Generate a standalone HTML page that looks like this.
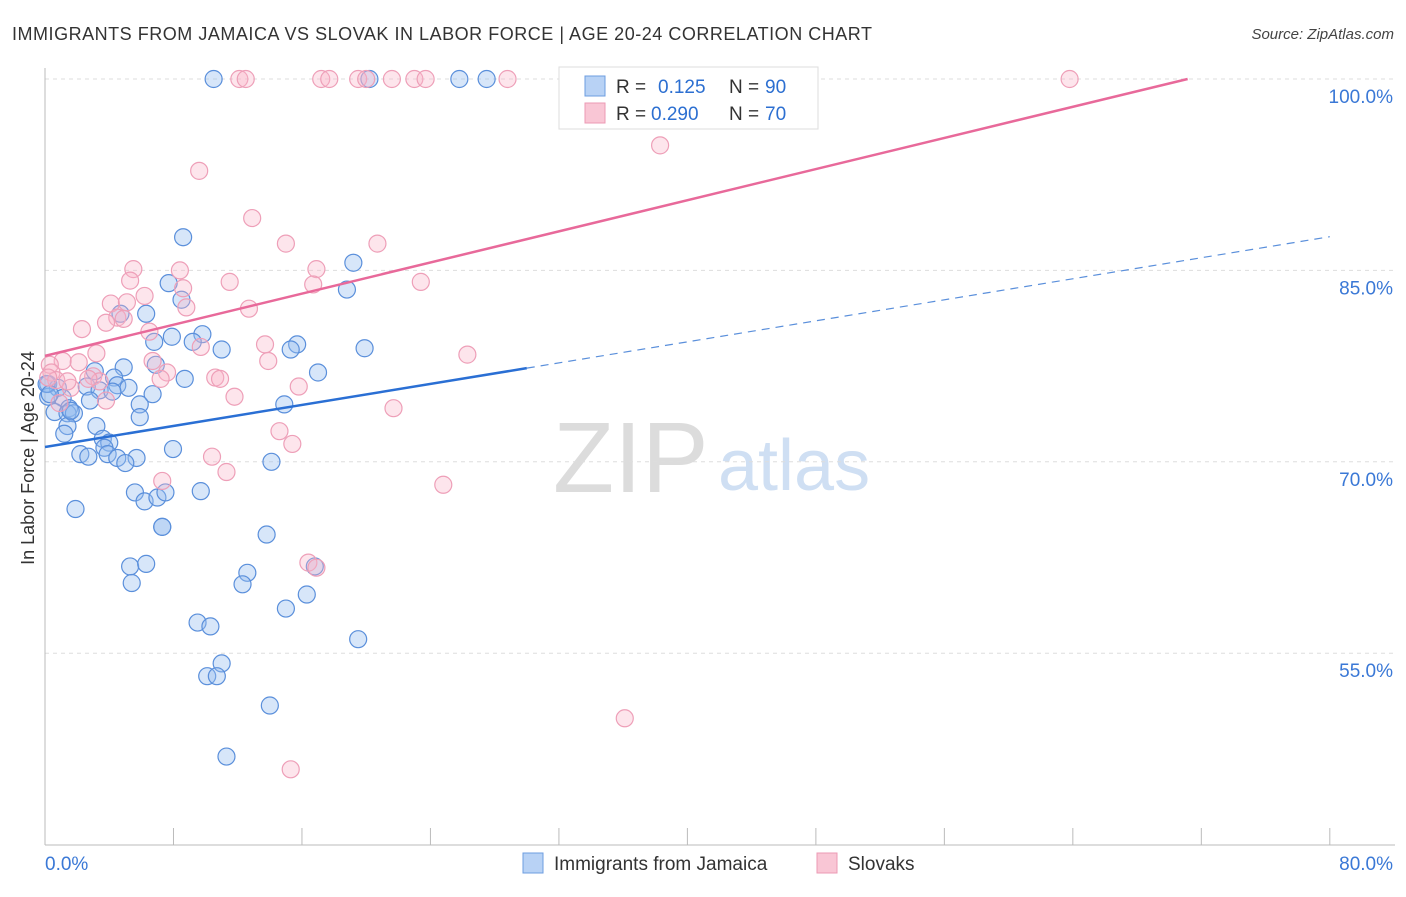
<!DOCTYPE html>
<html><head><meta charset="utf-8"><style>
body{margin:0;background:#fff;font-family:"Liberation Sans",sans-serif}
svg text{font-family:"Liberation Sans",sans-serif}
</style></head><body>
<svg id="chart" width="1406" height="892" viewBox="0 0 1406 892">
<text x="12" y="40" font-size="18" fill="#333" textLength="860">IMMIGRANTS FROM JAMAICA VS SLOVAK IN LABOR FORCE | AGE 20-24 CORRELATION CHART</text>
<text x="1394" y="39" font-size="15" fill="#444" text-anchor="end" font-style="italic">Source: ZipAtlas.com</text>
<g><text x="553" y="492" font-size="100" fill="#dcdcdc" font-family="Liberation Serif">ZIP</text><text x="718" y="490" font-size="72" fill="#cfdff3">atlas</text></g>
<g id="grid"></g>
<g id="axes"></g>
<g id="pts"></g>
<g id="lines"></g>
<text transform="translate(34,458) rotate(-90)" font-size="18" fill="#333" text-anchor="middle">In Labor Force | Age 20-24</text>
<g>
<rect x="559" y="67" width="259" height="62" fill="#fff" stroke="#ddd"/>
<rect x="585" y="76" width="20" height="20" fill="#b8d2f5" stroke="#6d9de0"/>
<rect x="585" y="103" width="20" height="20" fill="#f9c6d5" stroke="#ec9ab4"/>
<text x="616" y="93" font-size="19" fill="#333">R =</text><text x="658" y="93" font-size="19" fill="#2c6fd1">0.125</text>
<text x="729" y="93" font-size="19" fill="#333">N =</text><text x="765" y="93" font-size="19" fill="#2c6fd1">90</text>
<text x="616" y="120" font-size="19" fill="#333">R =</text><text x="651" y="120" font-size="19" fill="#2c6fd1">0.290</text>
<text x="729" y="120" font-size="19" fill="#333">N =</text><text x="765" y="120" font-size="19" fill="#2c6fd1">70</text>
</g>
<g>
<rect x="523" y="853" width="20" height="20" fill="#b8d2f5" stroke="#6d9de0"/>
<text x="554" y="870" font-size="19" fill="#333">Immigrants from Jamaica</text>
<rect x="817" y="853" width="20" height="20" fill="#f9c6d5" stroke="#ec9ab4"/>
<text x="848" y="870" font-size="19" fill="#333">Slovaks</text>
</g>
</svg>
<script>
const blueX=[10.5,20.2,25.8,27.5,8.6,19.2,7.7,18.8,8.5,6.3,4.7,7.9,9.8,6.8,9.2,11.0,15.7,15.3,19.9,4.9,6.9,3.1,17.0,4.3,8.7,0.2,0.8,4.5,5.2,2.6,3.4,4.2,6.7,1.1,2.8,5.9,1.5,0.2,14.9,0.6,1.4,1.8,5.9,3.2,1.4,1.2,3.6,4.0,3.7,2.2,2.7,3.9,4.5,5.7,5.0,7.97,14.1,1.9,5.6,6.2,7.0,7.5,9.7,7.3,7.3,13.8,5.3,6.3,5.4,12.6,12.3,16.8,16.3,15.0,19.5,9.5,10.3,11.0,10.1,10.7,14.0,11.3,0.1,0.3,1.6];
const blueY=[100,100,100,100,87.6,85.6,84.0,83.5,82.7,81.6,81.6,79.8,80.0,79.4,79.4,78.8,79.2,78.8,78.9,77.4,77.6,77.1,77.0,76.6,76.5,76.1,75.8,76.0,75.8,75.9,75.6,75.5,75.3,75.0,74.8,74.5,74.2,75.1,74.5,73.9,73.8,73.8,73.5,72.8,72.8,72.2,71.8,71.5,71.1,70.6,70.4,70.6,70.3,70.3,69.9,71.0,70.0,66.3,67.6,66.9,67.2,67.6,67.7,64.9,64.9,64.3,61.8,62.0,60.5,61.3,60.4,61.8,59.6,58.5,56.1,57.4,57.1,54.2,53.2,53.2,50.9,46.9,76.1,75.3,74.0];
const pinkX=[12.1,12.5,17.2,17.7,19.5,20.0,21.6,23.0,23.7,28.8,63.8,38.3,9.6,12.9,15.0,20.7,5.5,8.4,16.9,5.3,11.5,8.6,16.7,23.4,6.2,4.1,5.1,8.8,12.7,4.5,4.9,3.8,2.3,6.5,13.7,9.7,3.2,26.3,1.1,2.1,6.7,13.9,0.3,0.4,0.7,3.0,7.6,7.2,10.6,10.9,3.4,15.8,1.6,11.8,3.8,21.7,14.6,15.4,10.4,11.3,7.3,24.8,16.4,16.9,36.1,15.3,0.2,1.4,2.7,0.9];
const pinkY=[100,100,100,100,100,100,100,100,100,100,100,94.8,92.8,89.1,87.1,87.1,85.1,85.0,85.1,84.2,84.1,83.6,83.9,84.1,83.0,82.4,82.5,82.1,82.0,81.3,81.2,80.9,80.4,80.2,79.2,79.0,78.5,78.4,77.9,77.8,77.9,77.9,77.6,77.0,76.4,76.7,77.0,76.5,76.6,76.5,76.3,75.9,75.8,75.1,74.8,74.2,72.4,71.4,70.4,69.2,68.5,68.2,62.1,61.7,49.9,45.9,76.6,76.3,76.5,74.6];
const xTicks=[0,8,16,24,32,40,48,56,64,72,80];
const yTicks=[55,70,85,100];
const X=v=>45+v*16.06, Y=v=>79+(100-v)*12.76;
const NS='http://www.w3.org/2000/svg';
function mk(p,t,a){const e=document.createElementNS(NS,t);for(const k in a)e.setAttribute(k,a[k]);p.appendChild(e);return e;}
const grid=document.getElementById('grid'),axes=document.getElementById('axes'),pts=document.getElementById('pts'),lines=document.getElementById('lines');
yTicks.forEach(v=>{const l=mk(grid,'line',{x1:45,x2:1395,y1:Y(v),y2:Y(v),stroke:'#ddd','stroke-dasharray':'4,4'});


const t=mk(axes,'text',{x:1393,y:Y(v)+24,'font-size':19,fill:'#3a78d6','text-anchor':'end'});t.textContent=v.toFixed(1)+'%';

});
mk(axes,'line',{x1:45,x2:45,y1:68,y2:845,stroke:'#bbb'});
mk(axes,'line',{x1:45,x2:1395,y1:845,y2:845,stroke:'#bbb'});
xTicks.forEach(v=>{const l=mk(axes,'line',{x1:X(v),x2:X(v),y1:828,y2:845,stroke:'#bbb'});

});
[[0,'start',45],[80,'end',1393]].forEach(([v,a,x])=>{const t=mk(axes,'text',{x:x,y:870,'font-size':19,fill:'#3a78d6','text-anchor':a});t.textContent=v.toFixed(1)+'%';

});
blueX.forEach((v,i)=>{const c=mk(pts,'circle',{cx:X(v),cy:Y(blueY[i]),r:8.5,fill:'rgba(150,190,240,0.38)',stroke:'#5a8fdb','stroke-width':1.2});

});
pinkX.forEach((v,i)=>{const c=mk(pts,'circle',{cx:X(v),cy:Y(pinkY[i]),r:8.5,fill:'rgba(248,180,200,0.35)',stroke:'#ee9fb8','stroke-width':1.2});

});
const blueLine=[71.16,0.206], pinkLine=[78.3,0.305];
let e;
e=mk(lines,'line',{x1:X(0),y1:Y(blueLine[0]),x2:X(30),y2:Y(blueLine[0]+30*blueLine[1]),stroke:'#2a6fd4','stroke-width':2.5});


e=mk(lines,'line',{x1:X(30),y1:Y(blueLine[0]+30*blueLine[1]),x2:X(80),y2:Y(blueLine[0]+80*blueLine[1]),stroke:'#5a8fdb','stroke-width':1.2,'stroke-dasharray':'8,6'});


const pEnd=(100-pinkLine[0])/pinkLine[1];
e=mk(lines,'line',{x1:X(0),y1:Y(pinkLine[0]),x2:X(pEnd),y2:Y(100),stroke:'#e8699a','stroke-width':2.5});


</script>
</body></html>
